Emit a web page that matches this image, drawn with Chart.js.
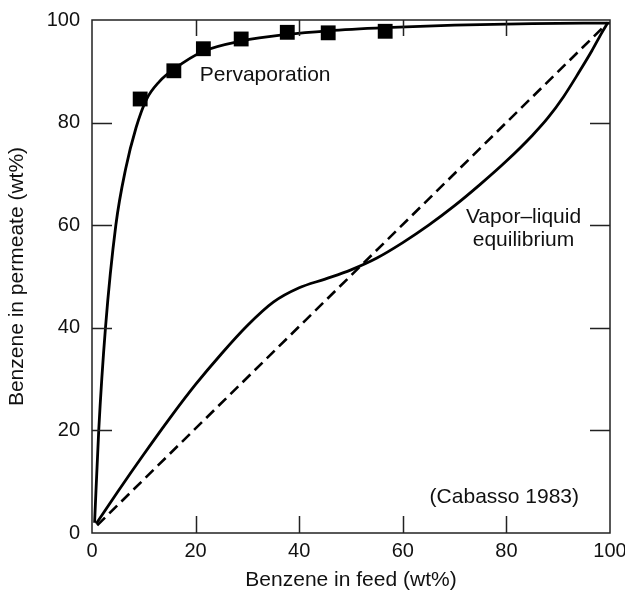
<!DOCTYPE html>
<html>
<head>
<meta charset="utf-8">
<script src="https://cdn.jsdelivr.net/npm/chart.js@4.4.1/dist/chart.umd.min.js"></script>
<style>
  html, body { margin: 0; padding: 0; background: #fff; }
  #wrap { width: 625px; height: 596px; }
</style>
</head>
<body>
<div id="wrap"><canvas id="c" width="625" height="596"></canvas></div>
<script>
// Measured pervaporation permeate composition (markers)
const pervapFeed = [9.3, 15.8, 21.5, 28.8, 37.7, 45.6, 56.6];
const pervapPermeate = [84.6, 90.1, 94.4, 96.3, 97.6, 97.5, 97.8];

// Smoothed pervaporation curve
const pervapCurveFeed = [0.5, 1.3, 2.6, 4.6, 6.5, 8.5, 10.5, 13, 15.8, 21.5, 28.8, 37.7, 45.6, 56.6, 70, 85, 100];
const pervapCurvePermeate = [2, 20, 40, 60, 71, 79, 84.5, 88, 90.4, 93.9, 95.9, 97.2, 97.9, 98.5, 99.0, 99.3, 99.4];

// Vapor-liquid equilibrium curve
const vleFeed = [0.8, 5, 10, 15, 20, 25, 30, 35, 40, 45, 50, 55, 60, 65, 70, 75, 80, 85, 88, 91, 94, 96.5, 98.3, 99.6];
const vleVapor = [1.8, 8.1, 15.35, 22.35, 28.95, 34.95, 40.45, 45.0, 47.8, 49.5, 51.3, 53.6, 56.6, 60.0, 63.8, 68.0, 72.5, 77.5, 80.9, 85.0, 89.8, 94.0, 97.3, 99.5];

// Diagonal reference line y = x
const diagFeed = [1, 99.6];
const diagPermeate = [1.5, 99.5];

// Axis ticks
const axisTicks = [0, 20, 40, 60, 80, 100];

const toPts = (xs, ys) => xs.map((x, i) => ({ x: x, y: ys[i] }));

const FONT = "'Liberation Sans', Arial, Helvetica, sans-serif";
const INK = '#111';

// Frame with inward tick marks on all four sides
const framePlugin = {
  id: 'frameTicks',
  afterDatasetsDraw(chart) {
    const { ctx, chartArea: a, scales } = chart;
    ctx.save();
    ctx.strokeStyle = '#222';
    ctx.lineWidth = 1.5;
    ctx.strokeRect(a.left, a.top, a.right - a.left, a.bottom - a.top);
    ctx.beginPath();
    scales.x.ticks.forEach(t => {
      if (t.value <= 0 || t.value >= 100) return;
      const px = Math.round(scales.x.getPixelForValue(t.value)) + 0.5;
      ctx.moveTo(px, a.bottom); ctx.lineTo(px, a.bottom - 17);
      ctx.moveTo(px, a.top); ctx.lineTo(px, a.top + 16);
    });
    scales.y.ticks.forEach(t => {
      if (t.value <= 0 || t.value >= 100) return;
      const py = Math.round(scales.y.getPixelForValue(t.value)) + 0.5;
      ctx.moveTo(a.left, py); ctx.lineTo(a.left + 20, py);
      ctx.moveTo(a.right, py); ctx.lineTo(a.right - 20, py);
    });
    ctx.stroke();
    ctx.restore();
  }
};

// Text labels placed in data coordinates
const notes = [
  { text: 'Pervaporation', x: 20.8, y: 88.1, align: 'left' },
  { text: 'Vapor\u2013liquid', x: 83.3, y: 60.4, align: 'center' },
  { text: 'equilibrium', x: 83.3, y: 55.9, align: 'center' },
  { text: '(Cabasso 1983)', x: 79.6, y: 5.8, align: 'center' }
];
const notePlugin = {
  id: 'notes',
  afterDatasetsDraw(chart) {
    const { ctx, scales } = chart;
    ctx.save();
    ctx.fillStyle = INK;
    ctx.font = '21px ' + FONT;
    ctx.textBaseline = 'alphabetic';
    notes.forEach(n => {
      ctx.textAlign = n.align;
      ctx.fillText(n.text, scales.x.getPixelForValue(n.x), scales.y.getPixelForValue(n.y));
    });
    ctx.restore();
  }
};

new Chart(document.getElementById('c'), {
  type: 'scatter',
  data: {
    datasets: [
      {
        data: toPts(diagFeed, diagPermeate),
        showLine: true, borderColor: '#000', borderWidth: 2.6,
        borderDash: [11, 6], pointRadius: 0, fill: false
      },
      {
        data: toPts(vleFeed, vleVapor),
        showLine: true, borderColor: '#000', borderWidth: 2.8,
        cubicInterpolationMode: 'monotone', pointRadius: 0, fill: false
      },
      {
        data: toPts(pervapCurveFeed, pervapCurvePermeate),
        showLine: true, borderColor: '#000', borderWidth: 2.8,
        cubicInterpolationMode: 'monotone', pointRadius: 0, fill: false
      },
      {
        data: toPts(pervapFeed, pervapPermeate),
        showLine: false, pointStyle: 'rect', pointRadius: 10.5,
        backgroundColor: '#000', borderColor: '#000', borderWidth: 0
      }
    ]
  },
  options: {
    responsive: false,
    animation: false,
    devicePixelRatio: 1,
    layout: { padding: { top: 20, right: 15, left: 0, bottom: 0 } },
    plugins: { legend: { display: false }, tooltip: { enabled: false } },
    scales: {
      x: {
        type: 'linear', min: 0, max: 100,
        afterBuildTicks: s => { s.ticks = axisTicks.map(v => ({ value: v })); },
        afterFit: s => { s.height = 63; s.paddingLeft = 0; s.paddingRight = 0; },
        grid: { display: false, drawTicks: false },
        border: { display: false },
        ticks: { color: INK, font: { family: FONT, size: 20 }, padding: 6, maxRotation: 0 },
        title: { display: true, text: 'Benzene in feed (wt%)', color: INK,
                 font: { family: FONT, size: 21 }, padding: { top: 0, bottom: 3 } }
      },
      y: {
        type: 'linear', min: 0, max: 100,
        afterBuildTicks: s => { s.ticks = axisTicks.map(v => ({ value: v })); },
        afterFit: s => { s.width = 92; s.paddingTop = 0; s.paddingBottom = 0; },
        grid: { display: false, drawTicks: false },
        border: { display: false },
        ticks: { color: INK, font: { family: FONT, size: 20 }, padding: 12 },
        title: { display: true, text: 'Benzene in permeate (wt%)', color: INK,
                 font: { family: FONT, size: 21 }, padding: { top: 5, bottom: 0 } }
      }
    }
  },
  plugins: [framePlugin, notePlugin]
});
</script>
</body>
</html>
